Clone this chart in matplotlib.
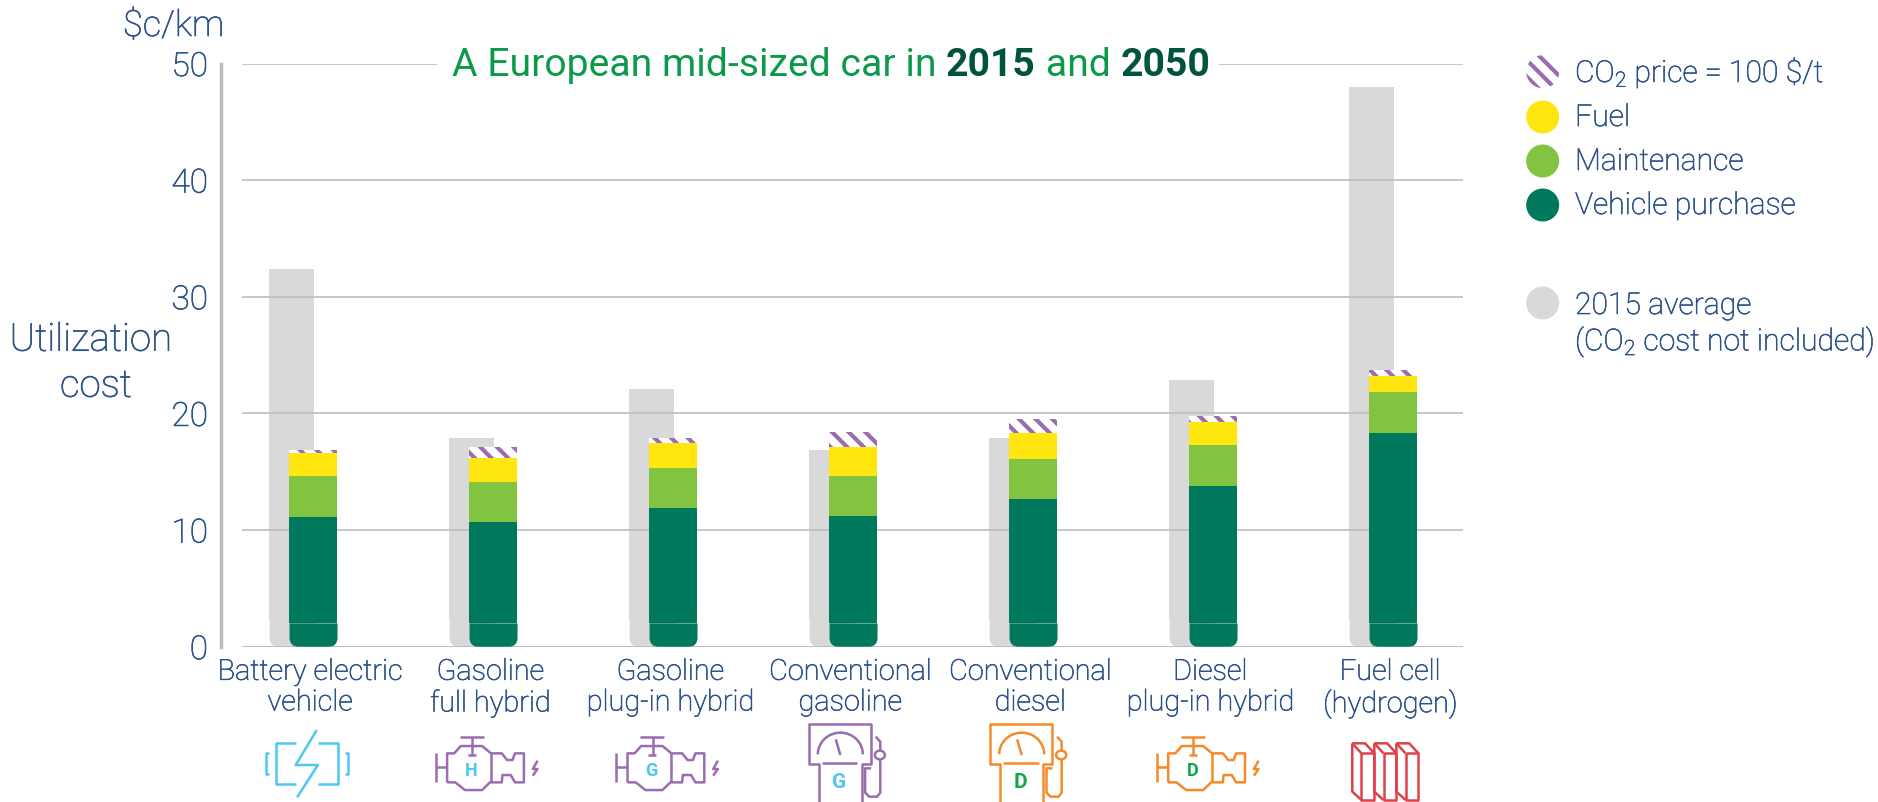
import matplotlib
matplotlib.use("Agg")
import matplotlib.pyplot as plt
import matplotlib.patheffects as pe
from matplotlib.patches import Circle, PathPatch, Rectangle
from matplotlib.path import Path
import numpy as np

plt.rcParams['font.family'] = ['Roboto', 'DejaVu Sans']
plt.rcParams['font.weight'] = 'light'
plt.rcParams['mathtext.default'] = 'regular'
plt.rcParams['hatch.linewidth'] = 3

categories = ["Battery electric\nvehicle", "Gasoline\nfull hybrid", "Gasoline\nplug-in hybrid",
              "Conventional\ngasoline", "Conventional\ndiesel", "Diesel\nplug-in hybrid",
              "Fuel cell\n(hydrogen)"]
purchase = [11.1, 10.7, 11.9, 11.2, 12.7, 13.8, 18.3]
maintenance = [3.5, 3.4, 3.4, 3.4, 3.4, 3.45, 3.5]
fuel = [2.0, 2.1, 2.15, 2.5, 2.2, 2.05, 1.4]
co2 = [0.3, 0.9, 0.45, 1.3, 1.2, 0.5, 0.5]
avg_2015 = [32.4, 17.9, 22.1, 16.9, 17.9, 22.9, 48.0]
yticks = [0, 10, 20, 30, 40, 50]

TEXT = '#2b5288'
DARK = '#00785c'
MID = '#82c341'
YEL = '#ffe60f'
GREY = '#d9d9d9'
PURPLE = '#9a6cb0'
CYAN = '#4cc8f2'
ORANGE = '#f58a2b'
RED = '#e0404a'
LINE = '#bdbdbd'

W, H = 1878, 802
fig = plt.figure(figsize=(W / 100, H / 100), dpi=100)
ax = fig.add_axes([220.5 / W, (H - 646.7) / H, (1463 - 220.5) / W, 583.2 / H])
ax.set_xlim((220.5 - 313) / 180, (1463 - 313) / 180)
ax.set_ylim(0, 50)
for s in ['top', 'right', 'bottom']:
    ax.spines[s].set_visible(False)
ax.spines['left'].set_color(LINE)
ax.spines['left'].set_linewidth(2.5)

x = np.arange(len(categories))
purchase = np.array(purchase)
maintenance = np.array(maintenance)
fuel = np.array(fuel)
co2 = np.array(co2)
avg_2015 = np.array(avg_2015)

def foot(xc, w, h, color, z):
    # bar bottom with rounded corners
    rx, ry = 9 / 180, 9 / 11.66
    l, r = xc - w / 2, xc + w / 2
    verts = [(l, h), (l, ry), (l, 0), (l + rx, 0), (r - rx, 0), (r, 0), (r, ry), (r, h), (l, h)]
    codes = [Path.MOVETO, Path.LINETO, Path.CURVE3, Path.CURVE3, Path.LINETO,
             Path.CURVE3, Path.CURVE3, Path.LINETO, Path.CLOSEPOLY]
    ax.add_patch(PathPatch(Path(verts, codes), facecolor=color, lw=0, zorder=z))

gw, w = 45 / 180, 48 / 180
gx = x - 0.12
gfoot, dfoot = 2.4, 2.0
ax.bar(gx, avg_2015 - gfoot, gw, bottom=gfoot, color=GREY, zorder=1)
ax.hlines(yticks, (242 - 313) / 180, (1463 - 313) / 180, color=LINE, lw=1.2, zorder=2)
ax.hlines(0, (242 - 313) / 180, (1463 - 313) / 180, color=LINE, lw=2, zorder=2)
ax.bar(x, purchase - dfoot, w, bottom=dfoot, color=DARK, zorder=3)
ax.bar(x, maintenance, w, bottom=purchase, color=MID, zorder=3)
ax.bar(x, fuel, w, bottom=purchase + maintenance, color=YEL, zorder=3)
ax.bar(x, co2, w, bottom=purchase + maintenance + fuel, facecolor='white', edgecolor=PURPLE,
       hatch='\\\\', linewidth=0, zorder=3)
for i in x:
    foot(gx[i] + 0.004, gw, gfoot, GREY, 1)
    foot(i + 0.003, w, dfoot, DARK, 3)

ax.set_yticks(yticks)
ax.set_yticklabels([str(v) for v in yticks], fontsize=24, color=TEXT)
ax.set_xticks(x - 0.015)
ax.set_xticklabels(categories, fontsize=20.8, color=TEXT, linespacing=1.12)
ax.tick_params(axis='both', length=0)
ax.tick_params(axis='y', pad=9)
ax.tick_params(axis='x', pad=8)

# overlay in pixel coordinates for title, legend and icons
ov = fig.add_axes([0, 0, 1, 1], facecolor='none')
ov.set_xlim(0, W)
ov.set_ylim(H, 0)
ov.axis('off')

labels = list(ax.get_xticklabels()) + list(ax.get_yticklabels())
labels.append(ov.text(123, 26, r"\$c/km", fontsize=26, color=TEXT, va='center', ha='left'))
labels.append(ov.text(91, 340, "Utilization", fontsize=27.7, color=TEXT, va='center', ha='center'))
labels.append(ov.text(96, 386, "cost", fontsize=27.7, color=TEXT, va='center', ha='center'))

# title, white gap in the 50 gridline
ov.add_patch(Rectangle((437, 56), 782, 14, facecolor='white', lw=0, zorder=1))
tx = 451.5
renderer = fig.canvas.get_renderer()
title_parts = [("A European mid-sized car in ", '#0a9a4a', 'normal'), ("2015", '#00533c', 'bold'),
               (" and ", '#0a9a4a', 'normal'), ("2050", '#00533c', 'bold')]
for s, c, wt in title_parts:
    t = ov.text(tx, 66, s, fontsize=28.2, color=c, fontweight=wt, va='center', ha='left', zorder=2)
    tx += t.get_window_extent(renderer).width

# legend
legend_rows = [(71.7, "CO$_2$ price = 100 \\$/t", None, 1), (117, "Fuel", YEL, 1), (161, "Maintenance", MID, 1),
               (205, "Vehicle purchase", DARK, 1), (303, "2015 average", GREY, 3)]
for y, label, col, dy in legend_rows:
    if col is None:
        ov.add_patch(Circle((1542.7, y), 16.5, facecolor='white', edgecolor=PURPLE, hatch='\\\\', lw=0))
    else:
        ov.add_patch(Circle((1542.7, y), 16.5, facecolor=col, lw=0))
    labels.append(ov.text(1575, y + dy, label, fontsize=21.7, color=TEXT, va='center', ha='left'))
labels.append(ov.text(1575, 342, "(CO$_2$ cost not included)", fontsize=21.7, color=TEXT, va='center', ha='left'))

# the light face renders paler than the reference, thicken it a little
for t in labels:
    t.set_path_effects([pe.withStroke(linewidth=0.45, foreground=TEXT)])

def poly(pts, ox, oy, fx, fy, color, lw=1.8):
    ov.plot([ox + p[0] / fx for p in pts], [oy + p[1] / fy for p in pts], color=color, lw=lw,
            solid_capstyle='butt', solid_joinstyle='round')

# battery icon
bat = [[(327, 330), (268, 435), (330, 435), (272, 532)],
       [(270, 370), (212, 370), (212, 492), (270, 492)],
       [(330, 370), (386, 370), (386, 492), (330, 492)],
       [(193, 400), (185, 400), (185, 462), (193, 462)],
       [(405, 400), (413, 400), (413, 462), (405, 462)]]
for p in bat:
    poly(p, 200, 620, 2.8, 3, CYAN)

def engine(cx, color, letter, lcolor):
    parts = [[(728, 352), (795, 352)], [(762, 352), (762, 405)], [(750, 405), (772, 405)],
             [(660, 398), (660, 487)], [(660, 442), (692, 442)],
             [(692, 487), (692, 400), (712, 400), (730, 378), (790, 378), (815, 400),
              (845, 400), (860, 420), (875, 420), (882, 400), (907, 400), (907, 487),
              (882, 487), (870, 465), (847, 465), (845, 487), (812, 487), (790, 510),
              (742, 510), (715, 487), (692, 487)],
             [(815, 400), (815, 487)],
             [(945, 422), (932, 447), (945, 447), (932, 467)]]
    for p in parts:
        poly([(a - 760, b - 452) for a, b in p], cx, 770.7, 2.8, 3, color)
    ov.text(cx, 771, letter, color=lcolor, fontsize=13, fontweight='bold', ha='center', va='center')

engine(471.4, PURPLE, 'H', CYAN)
engine(651.8, PURPLE, 'G', CYAN)
engine(1192.5, ORANGE, 'D', '#10a84f')

def pump(cx, color, letter, lcolor):
    fx, fy = 2.178, 3
    ox, oy = cx, 620
    parts = [[(128, 546), (128, 432), (107, 432), (107, 312), (242, 312), (242, 432), (222, 432), (222, 546)],
             [(135, 430), (212, 430)], [(165, 358), (175, 405)],
             [(252, 350), (262, 365), (262, 392)],
             [(262, 418), (262, 518), (255, 530), (238, 530), (229, 518), (229, 445), (242, 445)]]
    for p in parts:
        poly([(a - 173, b) for a, b in p], ox, oy, fx, fy, color)
    dial = np.linspace(np.pi, 2 * np.pi, 30)
    poly([(175 - 173 + 49 * np.cos(a), 403 + 65 * np.sin(a)) for a in dial], ox, oy, fx, fy, color)
    knob = np.linspace(0, 2 * np.pi, 30)
    poly([(261 - 173 + 11 * np.cos(a), 405 + 13 * np.sin(a)) for a in knob], ox, oy, fx, fy, color)
    ov.text(cx, 783, letter, color=lcolor, fontsize=15, fontweight='bold', ha='center', va='center')

pump(760 + 173 / 2.178, PURPLE, 'G', CYAN)
pump(760 + 568 / 2.178, ORANGE, 'D', '#10a84f')

# fuel cell icon
for off in [0, 48, 96]:
    cell = [[(1310, 400), (1338, 400), (1338, 540), (1310, 540), (1310, 400)],
            [(1290, 370), (1318, 370), (1338, 400)], [(1290, 370), (1310, 400)],
            [(1290, 370), (1290, 515), (1310, 540)]]
    for p in cell:
        poly([(a + off, b) for a, b in p], 760, 620, 2.178, 3, RED)

fig.savefig('out.png', dpi=100)
